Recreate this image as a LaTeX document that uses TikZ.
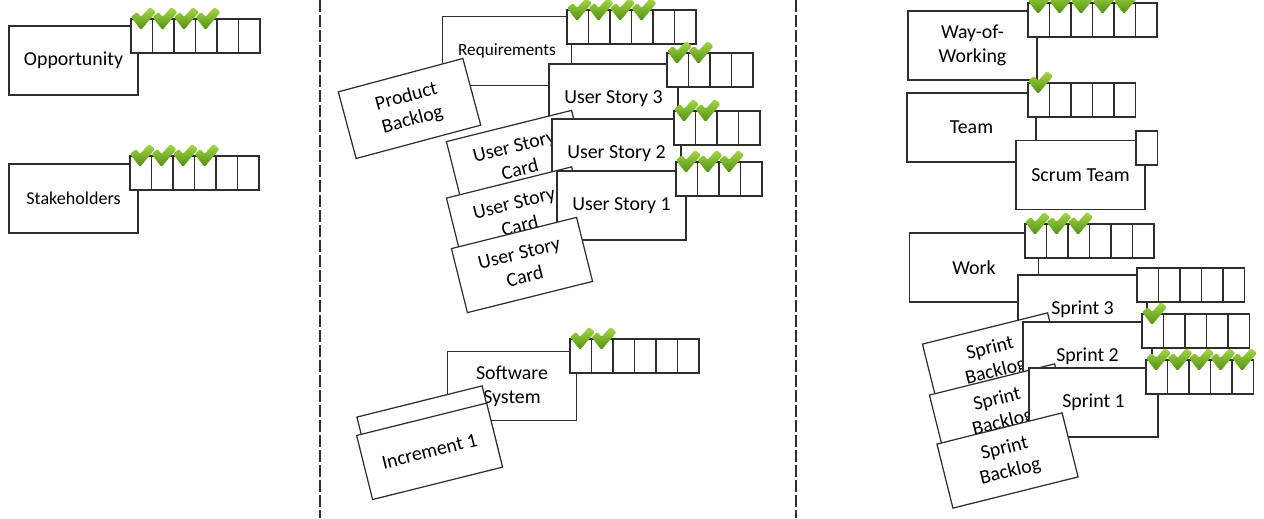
\documentclass[tikz,border=0pt]{standalone}
\usepackage{fontspec}
\setmainfont{Carlito}
\usetikzlibrary{positioning}
\definecolor{edge}{HTML}{2E2E2E}
\definecolor{tickhi}{HTML}{A6DA45}
\definecolor{ticklo}{HTML}{4F8E10}

% row of state cells: name, left x, top y, cells, ticked cells
\newcommand{\checklist}[5]{%
  \foreach \i in {1,...,#4}
    \node[cell] (#1-\i) at ({#2+(\i-0.5)*21.5},{#3+17}) {};
  \ifnum#5>0
    \foreach \i in {1,...,#5}
      \pic at ({#2+(\i-1)*21.5+1},{#3}) {tick};
  \fi
}

\begin{document}
\begin{tikzpicture}[
  x=0.02cm, y=-0.02cm,
  box/.style={draw=edge, fill=white, line width=0.7pt, minimum width=2.58cm,
              minimum height=1.38cm, inner sep=0pt, align=center,
              font=\fontsize{11.3}{13.6}\selectfont},
  card/.style={box, minimum height=1.32cm, rotate=14},
  cell/.style={draw=edge, fill=white, line width=0.7pt, minimum width=0.43cm,
               minimum height=0.68cm, inner sep=0pt},
  divider/.style={draw=edge, line width=0.7pt, dash pattern=on 0.24cm off 0.06cm},
  tick/.pic={\path[top color=tickhi, bottom color=ticklo, rounded corners=0.8pt]
    (-1,-2) -- (5,-7) -- (9,-2) -- (18,-12) -- (24,-7) -- (9,11) -- cycle;}
]
  \useasboundingbox (0,0) rectangle (1264,518);

  % Opportunity and stakeholders
  \node[box] (opp) at (73.5,60.5) {Opportunity};
  \checklist{oppc}{131}{19}{6}{4}
  \node[box, font=\fontsize{10.3}{12.4}\selectfont] (stake) at (73.5,198.5) {Stakeholders};
  \checklist{stakec}{130}{156}{6}{4}

  % Dividers
  \coordinate (d1a) at (320,0);
  \coordinate (d1b) at (320,518);
  \coordinate (d2a) at (796,0);
  \coordinate (d2b) at (796,518);
  \draw[divider] (d1a) -- (d1b);
  \draw[divider] (d2a) -- (d2b);

  % Requirements
  \node[box, font=\fontsize{9.8}{12}\selectfont] (req) at (507,51) {Requirements};
  \checklist{reqc}{567}{10}{6}{4}
  \node[card, minimum height=1.38cm, rotate=1] (pb) at (409.5,108.5) {Product\\Backlog};

  \node[box] (us3) at (613.5,98.5) {User Story 3};
  \checklist{us3c}{667}{53}{4}{2}
  \node[card] (usc1) at (517,158) {User Story\\Card};
  \node[box] (us2) at (616.5,153.5) {User Story 2};
  \checklist{us2c}{674}{111}{4}{2}
  \node[card] (usc2) at (517,214.5) {User Story\\Card};
  \node[box] (us1) at (621.5,205.5) {User Story 1};
  \checklist{us1c}{676}{162}{4}{3}
  \node[card] (usc3) at (522,265) {User Story\\Card};

  % Software system
  \node[box] (soft) at (512,386) {Software\\System};
  \checklist{softc}{570}{339}{6}{2}
  \node[card] (incb) at (427.5,433.5) {};
  \node[card, minimum width=2.68cm] (inca) at (429.6,451.3) {Increment 1};

  % Way-of-working and team
  \node[box] (wow) at (972.5,45.5) {Way-of-\\Working};
  \checklist{wowc}{1028}{3}{6}{5}
  \node[box] (team) at (971.5,127.5) {Team};
  \checklist{teamc}{1028}{83}{5}{1}
  \node[box] (scrum) at (1080.5,175) {Scrum Team};
  \checklist{scrumc}{1136}{131}{1}{0}

  % Work
  \node[box] (work) at (974,267.5) {Work};
  \checklist{workc}{1025}{224}{6}{3}
  \node[box] (spr3) at (1082.5,309.5) {Sprint 3};
  \checklist{spr3c}{1137}{268}{5}{0}
  \node[card] (sbl1) at (993,360.5) {Sprint\\Backlog};
  \node[box] (spr2) at (1087.5,356.5) {Sprint 2};
  \checklist{spr2c}{1142}{314}{5}{1}
  \node[card] (sbl2) at (1000,411.5) {Sprint\\Backlog};
  \node[box] (spr1) at (1093.5,402.5) {Sprint 1};
  \checklist{spr1c}{1146}{360}{5}{5}
  \node[card] (sbl3) at (1007.5,460.5) {Sprint\\Backlog};
\end{tikzpicture}
\end{document}
